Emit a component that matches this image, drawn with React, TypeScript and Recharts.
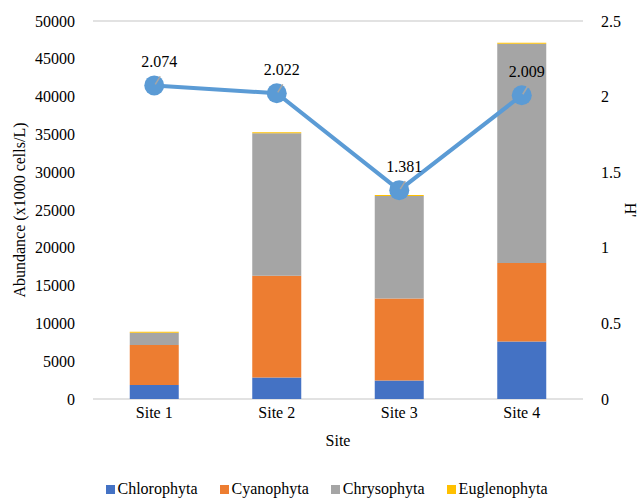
import React from "react";
import {
  ComposedChart,
  Bar,
  Line,
  XAxis,
  YAxis,
  CartesianGrid,
  Legend,
} from "recharts";

const sites = ["Site 1", "Site 2", "Site 3", "Site 4"];
const chlorophyta = [1850, 2850, 2450, 7600];
const cyanophyta = [5300, 13450, 10850, 10400];
const chrysophyta = [1600, 18850, 13550, 29000];
const euglenophyta = [150, 150, 120, 130];
const diversity = [2.074, 2.022, 1.381, 2.009];

const leftTicks = [0, 5000, 10000, 15000, 20000, 25000, 30000, 35000, 40000, 45000, 50000];
const rightTicks = [0, 0.5, 1, 1.5, 2, 2.5];

const data = sites.map((site, i) => ({
  site,
  Chlorophyta: chlorophyta[i],
  Cyanophyta: cyanophyta[i],
  Chrysophyta: chrysophyta[i],
  Euglenophyta: euglenophyta[i],
  H: diversity[i],
}));

const FONT = "'Liberation Serif', 'Times New Roman', serif";

const legendItems = [
  { name: "Chlorophyta", color: "#4472C4" },
  { name: "Cyanophyta", color: "#ED7D31" },
  { name: "Chrysophyta", color: "#A5A5A5" },
  { name: "Euglenophyta", color: "#FFC000" },
];

const CustomLegend = () => (
  <div
    style={{
      display: "flex",
      justifyContent: "center",
      gap: 22,
      fontFamily: FONT,
      fontSize: 16,
      color: "#000",
      paddingLeft: 12,
    }}
  >
    {legendItems.map((item) => (
      <div key={item.name} style={{ display: "flex", alignItems: "center" }}>
        <span
          style={{
            width: 9,
            height: 9,
            background: item.color,
            marginRight: 3,
            display: "inline-block",
          }}
        ></span>
        <span>{item.name}</span>
      </div>
    ))}
  </div>
);

const PointLabel = (props: any) => {
  const { x, y, value } = props;
  return (
    <g>
      <line x1={x + 1} y1={y - 1} x2={x + 6} y2={y - 9} stroke="#A6A6A6" strokeWidth={1.5} />
      <text
        x={x + 5}
        y={y - 18}
        textAnchor="middle"
        fontFamily={FONT}
        fontSize={16}
        fill="#000"
      >
        {value.toFixed(3)}
      </text>
    </g>
  );
};

export default function App() {
  return (
    <div style={{ position: "absolute", left: 0, top: 0, background: "#fff" }}>
      <ComposedChart
        width={641}
        height={498}
        data={data}
        margin={{ top: 21, right: 0, bottom: 0, left: 0 }}
        barCategoryGap="30%"
      >
        <CartesianGrid vertical={false} stroke="#D9D9D9" strokeWidth={1.3} />
        <XAxis
          dataKey="site"
          axisLine={false}
          tickLine={false}
          height={81}
          tick={{ fontFamily: FONT, fontSize: 16, fill: "#000" }}
          label={{
            value: "Site",
            position: "insideBottom",
            offset: 34,
            style: { fontFamily: FONT, fontSize: 16, fill: "#000" },
          }}
        />
        <YAxis
          yAxisId="left"
          width={93}
          domain={[0, 50000]}
          ticks={leftTicks}
          axisLine={false}
          tickLine={false}
          tickMargin={12}
          tick={{ fontFamily: FONT, fontSize: 16, fill: "#000" }}
          label={{
            value: "Abundance (x1000 cells/L)",
            angle: -90,
            position: "insideLeft",
            offset: 19,
            style: { textAnchor: "middle", fontFamily: FONT, fontSize: 16, fill: "#000" },
          }}
        />
        <YAxis
          yAxisId="right"
          orientation="right"
          width={58}
          domain={[0, 2.5]}
          ticks={rightTicks}
          axisLine={false}
          tickLine={false}
          tickMargin={12}
          tick={{ fontFamily: FONT, fontSize: 16, fill: "#000" }}
          label={{
            value: "H'",
            angle: 90,
            position: "insideRight",
            offset: 10,
            style: { textAnchor: "middle", fontFamily: FONT, fontSize: 16, fill: "#000" },
          }}
        />
        <Legend verticalAlign="bottom" content={<CustomLegend />} />
        <Bar yAxisId="left" dataKey="Chlorophyta" stackId="a" fill="#4472C4" isAnimationActive={false} />
        <Bar yAxisId="left" dataKey="Cyanophyta" stackId="a" fill="#ED7D31" isAnimationActive={false} />
        <Bar yAxisId="left" dataKey="Chrysophyta" stackId="a" fill="#A5A5A5" isAnimationActive={false} />
        <Bar yAxisId="left" dataKey="Euglenophyta" stackId="a" fill="#FFC000" isAnimationActive={false} />
        <Line
          yAxisId="right"
          dataKey="H"
          stroke="#5B9BD5"
          strokeWidth={4}
          dot={{ r: 10, fill: "#5B9BD5", stroke: "#5B9BD5", strokeWidth: 0 }}
          activeDot={false}
          label={<PointLabel />}
          isAnimationActive={false}
        />
      </ComposedChart>
    </div>
  );
}
